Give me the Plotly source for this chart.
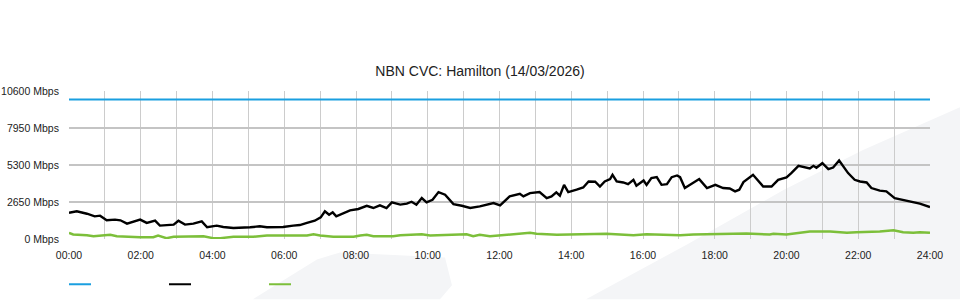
import plotly.graph_objects as go

# ---- data ----
capacity_times = ["00:00", "24:00"]
capacity_mbps = [10000, 10000]

download_times = ["00:00","00:13","00:30","00:43","00:52","01:03","01:17","01:26","01:37","01:48",
    "01:59","02:10","02:24","02:32","02:46","02:55","03:03","03:14","03:28","03:42",
    "03:51","04:07","04:18","04:35","05:03","05:19","05:31","05:58","06:15","06:26",
    "06:38","06:51","07:01","07:08","07:15","07:21","07:27","07:39","07:50","08:04",
    "08:18","08:29","08:40","08:51","09:00","09:14","09:25","09:33","09:41","09:50",
    "09:58","10:08","10:18","10:29","10:36","10:43","10:57","11:11","11:27","11:50",
    "12:01","12:17","12:34","12:40","12:51","13:07","13:19","13:27","13:35","13:41",
    "13:48","13:55","14:09","14:20","14:29","14:40","14:48","14:56","15:05","15:09",
    "15:16","15:27","15:35","15:44","15:49","16:01","16:06","16:14","16:23","16:31",
    "16:40","16:48","16:57","17:02","17:10","17:24","17:34","17:47","18:01","18:14",
    "18:25","18:34","18:41","18:48","19:04","19:21","19:35","19:46","20:00","20:08",
    "20:20","20:39","20:45","20:50","21:00","21:10","21:18","21:28","21:35","21:43",
    "21:54","22:03","22:14","22:22","22:36","22:47","23:01","23:13","23:27","23:43","24:00"]
download_mbps = [1880,1980,1810,1620,1670,1340,1390,1340,1100,1260,
    1390,1150,1310,960,980,1030,1310,1030,1100,1260,
    840,960,860,790,840,910,840,860,960,1000,
    1150,1310,1550,1980,1740,1910,1620,1860,2050,2150,
    2380,2220,2410,2220,2620,2460,2530,2670,2460,2930,
    2620,2810,3360,3170,2860,2500,2380,2220,2340,2570,
    2410,3050,3240,3050,3290,3360,2930,3050,3340,3100,
    3880,3360,3530,3690,4120,4100,3760,4120,4290,4600,
    4120,4050,3930,4240,3810,4190,3880,4360,4430,3880,
    3930,4430,4550,4430,3650,4050,4290,3650,3880,3650,
    3620,3410,3530,4070,4600,3760,3760,4240,4410,4720,
    5240,5050,5240,5100,5430,5000,5120,5620,5190,4720,
    4240,4120,4050,3650,3460,3410,2930,2810,2650,2530,2290]

upload_times = ["00:00","00:07","00:30","00:41","01:09","01:20","01:59","02:21","02:29","02:43",
    "02:55","03:28","03:45","04:01","04:13","04:35","05:08","05:31","06:38","06:49",
    "07:00","07:22","07:56","08:07","08:18","08:29","09:02","09:14","09:50","10:04",
    "10:54","11:05","11:16","11:27","11:44","12:01","12:23","12:51","13:02","13:36",
    "14:59","15:10","15:44","16:06","17:02","17:24","17:58","18:53","19:32","19:38",
    "20:00","20:23","20:39","21:13","21:41","21:57","22:36","22:59","23:15","23:32",
    "23:43","24:00"]
upload_mbps = [440,320,270,200,300,200,130,130,250,60,
    160,160,200,60,60,160,160,250,250,340,
    250,160,160,250,300,200,200,270,340,250,
    300,340,200,300,200,270,320,440,370,300,
    370,340,270,340,270,320,340,390,320,370,
    320,440,530,530,440,490,530,630,490,440,
    490,440]

y_ticks = [0, 2650, 5300, 7950, 10600]
x_tick_hours = list(range(0, 25, 2))
x_tick_labels = [f"{h:02d}:00" for h in x_tick_hours]
title_text = "NBN CVC: Hamilton (14/03/2026)"

BLUE = "#1a9fe0"
BLACK = "#000000"
GREEN = "#7cbf3a"


def to_hours(ts):
    out = []
    for t in ts:
        h, m = t.split(":")
        out.append(int(h) + int(m) / 60.0)
    return out


fig = go.Figure()
fig.add_trace(go.Scatter(x=to_hours(capacity_times), y=capacity_mbps, mode="lines",
                         line=dict(color=BLUE, width=2), showlegend=False, hoverinfo="skip"))
fig.add_trace(go.Scatter(x=to_hours(upload_times), y=upload_mbps, mode="lines",
                         line=dict(color=GREEN, width=2.5), showlegend=False, hoverinfo="skip"))
fig.add_trace(go.Scatter(x=to_hours(download_times), y=download_mbps, mode="lines",
                         line=dict(color=BLACK, width=2.4), showlegend=False, hoverinfo="skip"))

# plot area in pixels: x 69..930, y 90.7..239.5
L, R, T, B = 69, 930, 90.7, 239.5
W, H = R - L, B - T


def px(x):
    return (x - L) / W


def py(y):
    return (B - y) / H


def path(points):
    s = "M " + " L ".join(f"{px(x):.4f},{py(y):.4f}" for x, y in points) + " Z"
    return s


shapes = []
# background watermark (decorative)
shapes.append(dict(type="path", xref="paper", yref="paper", layer="below",
                   path=path([(586, 300), (687, 245), (784, 190), (863, 150), (960, 107), (960, 300)]),
                   fillcolor="#f4f5f7", line=dict(width=0)))
shapes.append(dict(type="path", xref="paper", yref="paper", layer="below",
                   path=path([(253, 300), (317, 260), (340, 253), (445, 258), (452, 286), (440, 300)]),
                   fillcolor="#f4f5f7", line=dict(width=0)))
# legend keys
for x0, c in [(69, BLUE), (169, BLACK), (269, GREEN)]:
    shapes.append(dict(type="line", xref="paper", yref="paper",
                       x0=px(x0), x1=px(x0 + 22), y0=py(285), y1=py(285),
                       line=dict(color=c, width=2)))

fig.update_layout(
    width=960, height=300,
    margin=dict(l=L, r=960 - R, t=T, b=300 - B, pad=0, autoexpand=False),
    paper_bgcolor="white", plot_bgcolor="rgba(0,0,0,0)",
    font=dict(family="Liberation Sans, Arial, sans-serif", size=10.5, color="#222222"),
    title=dict(text=title_text, x=0.5, xanchor="center", y=(300 - 71) / 300, yanchor="middle",
               yref="container", font=dict(size=14, color="#222222")),
    shapes=shapes,
    showlegend=False,
)
fig.update_xaxes(range=[0, 24], tickvals=x_tick_hours, ticktext=x_tick_labels,
                 showgrid=True, gridcolor="#cccccc", gridwidth=1, automargin=False,
                 zeroline=False, showline=False,
                 ticks="outside", ticklen=6, tickcolor="rgba(0,0,0,0)",
                 minor=dict(tickvals=list(range(1, 24, 2)), showgrid=True, gridcolor="#cccccc", gridwidth=1))
fig.update_yaxes(range=[0, 10600], tickvals=y_ticks, ticktext=[f"{v} Mbps" for v in y_ticks],
                 showgrid=True, gridcolor="#c4c4c4", gridwidth=1.5, automargin=False,
                 zeroline=False, showline=False,
                 ticks="outside", ticklen=7, tickcolor="rgba(0,0,0,0)")

fig.write_html("out.html")
